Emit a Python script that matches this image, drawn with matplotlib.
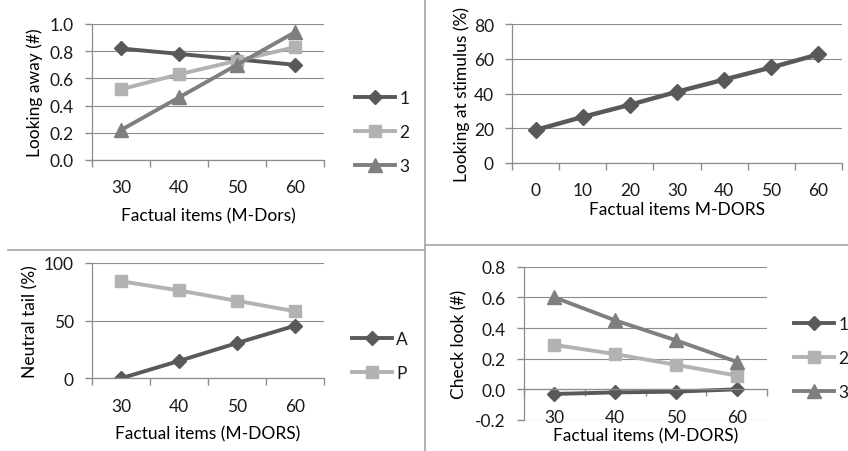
import matplotlib.pyplot as plt
from matplotlib.lines import Line2D
from matplotlib.ticker import FormatStrFormatter, FixedLocator
import numpy as np

plt.rcParams['font.family'] = ['Lato', 'DejaVu Sans']
plt.rcParams['font.size'] = 12.5
plt.rcParams['text.color'] = '#1a1a1a'
plt.rcParams['xtick.color'] = '#8c8c8c'
plt.rcParams['ytick.color'] = '#8c8c8c'
plt.rcParams['xtick.labelcolor'] = '#1a1a1a'
plt.rcParams['ytick.labelcolor'] = '#1a1a1a'

# data
items4 = ['30', '40', '50', '60']
away_1 = [0.82, 0.78, 0.74, 0.70]
away_2 = [0.52, 0.63, 0.73, 0.83]
away_3 = [0.22, 0.46, 0.70, 0.94]

items7 = ['0', '10', '20', '30', '40', '50', '60']
stimulus = [19, 26.5, 33.5, 41, 48, 55, 62.5]

tail_A = [0, 15, 30.5, 45.5]
tail_P = [84, 76, 67, 58]

check_1 = [-0.03, -0.02, -0.015, 0.0]
check_2 = [0.29, 0.23, 0.16, 0.09]
check_3 = [0.60, 0.45, 0.32, 0.18]

dark = '#595959'
light = '#b2b2b2'
mid = '#7f7f7f'
grid = '#8c8c8c'

W, H = 848, 452
fig = plt.figure(figsize=(W / 100, H / 100), dpi=100)


def box(x0, y0, x1, y1):
    # pixel box (top-left origin) -> figure fraction
    return [x0 / W, 1 - y1 / H, (x1 - x0) / W, (y1 - y0) / H]


def setup(ax, cats, ylim, yticks, yfmt, ylabel, xlabel, ylab_x, xlab_y, xaxis_at=None):
    n = len(cats)
    ax.set_xlim(-0.5, n - 0.5)
    ax.set_ylim(*ylim)
    ax.set_yticks(yticks)
    if yfmt:
        ax.yaxis.set_major_formatter(FormatStrFormatter(yfmt))
    ax.set_xticks(np.arange(n + 1) - 0.5)
    ax.set_xticklabels([])
    ax.xaxis.set_minor_locator(FixedLocator(np.arange(n)))
    ax.set_xticklabels(cats, minor=True)
    ax.tick_params(axis='x', which='major', length=5, width=1, direction='out')
    ax.tick_params(axis='x', which='minor', length=0, pad=14, labelsize=12.5)
    ax.tick_params(axis='y', length=5, width=1, pad=8, labelsize=12.5)
    ax.grid(axis='y', color=grid, lw=0.8)
    ax.set_axisbelow(True)
    for s in ['top', 'right']:
        ax.spines[s].set_visible(False)
    for s in ['left', 'bottom']:
        ax.spines[s].set_color(grid)
        ax.spines[s].set_linewidth(0.9)
    if xaxis_at is not None:
        ax.spines['bottom'].set_position(('data', xaxis_at))
    ax.set_ylabel(ylabel)
    ax.yaxis.set_label_coords(ylab_x, 0.5)
    ax.yaxis.label.set_va('center')
    ax.set_xlabel(xlabel)
    ax.xaxis.set_label_coords(0.5, xlab_y)
    ax.xaxis.label.set_va('center')


def legend(ax, x_px, y_px):
    ax.legend(loc='center left', bbox_to_anchor=(x_px / W, 1 - y_px / H),
              bbox_transform=fig.transFigure, frameon=False, borderpad=0,
              borderaxespad=0, handlelength=2.3, handletextpad=0.25,
              labelspacing=1.05, fontsize=12.5)


lw = 2.8

# top-left
ax1 = fig.add_axes(box(92, 25, 324, 161))
x4 = np.arange(len(items4))
ax1.plot(x4, away_1, color=dark, lw=lw, marker='D', ms=7.5, label='1')
ax1.plot(x4, away_2, color=light, lw=lw, marker='s', ms=9, label='2')
ax1.plot(x4, away_3, color=mid, lw=lw, marker='^', ms=10.5, label='3')
setup(ax1, items4, (0, 1.0), np.arange(0, 1.01, 0.2), '%.1f',
      'Looking away (#)', 'Factual items (M-Dors)', -0.246, -0.404)
legend(ax1, 355, 133)

# top-right
ax2 = fig.add_axes(box(512, 25, 842, 164))
x7 = np.arange(len(items7))
ax2.plot(x7, stimulus, color=dark, lw=lw + 0.4, marker='D', ms=8.5)
setup(ax2, items7, (0, 80), np.arange(0, 81, 20), None,
      'Looking at stimulus (%)', 'Factual items M-DORS', -0.152, -0.331)

# bottom-left
ax3 = fig.add_axes(box(92, 263.7, 324, 379.3))
ax3.plot(x4, tail_A, color=dark, lw=lw, marker='D', ms=7.5, label='A')
ax3.plot(x4, tail_P, color=light, lw=lw, marker='s', ms=9, label='P')
setup(ax3, items4, (0, 100), [0, 50, 100], None,
      'Neutral tail (%)', 'Factual items (M-DORS)', -0.267, -0.473)
legend(ax3, 352, 357)

# bottom-right
ax4 = fig.add_axes(box(524, 267.7, 767, 421))
ax4.plot(x4, check_1, color=dark, lw=lw, marker='D', ms=7.5, label='1')
ax4.plot(x4, check_2, color=light, lw=lw, marker='s', ms=9, label='2')
ax4.plot(x4, check_3, color=mid, lw=lw, marker='^', ms=10.5, label='3')
setup(ax4, items4, (-0.2, 0.8), np.arange(-0.2, 0.81, 0.2), '%.1f',
      'Check look (#)', 'Factual items (M-DORS)', -0.267, -0.102, xaxis_at=0)
legend(ax4, 794, 359)

# panel dividers
sep = dict(color='#a6a6a6', lw=1.2, transform=fig.transFigure)
fig.add_artist(Line2D([425 / W, 425 / W], [0, 1], **sep))
fig.add_artist(Line2D([8 / W, 425 / W], [1 - 251 / H, 1 - 251 / H], **sep))
fig.add_artist(Line2D([425 / W, 1], [1 - 246 / H, 1 - 246 / H], **sep))

fig.savefig('out.png', dpi=100)
